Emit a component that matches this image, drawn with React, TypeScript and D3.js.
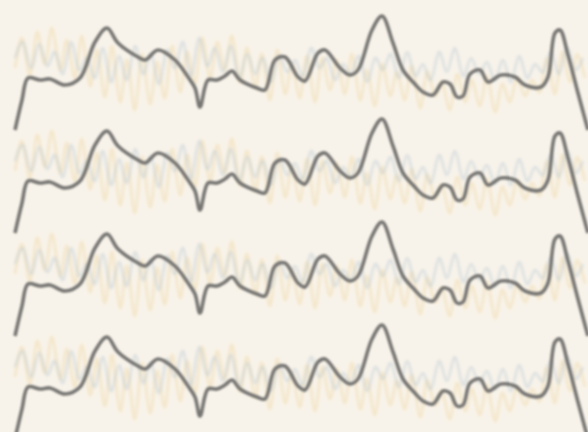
import * as d3 from 'd3';
import React, { useRef, useEffect } from 'react';

// sample positions and amplitudes of the main (dark) trace
const darkT = [0, 7, 13, 25, 35, 50, 65, 80, 92, 103, 123, 130, 143, 160, 173, 180, 185, 193, 202, 210, 217, 225, 242, 250, 260, 270, 283, 290, 303, 310, 325, 335, 343, 357, 367, 378, 388, 398, 408, 418, 428, 435, 442, 448, 455, 465, 473, 486, 500, 510, 526, 533, 540, 545, 553, 563, 573];
const darkV = [0, 30, 52, 50, 51, 45, 52, 88, 102, 87, 73, 70, 80, 70, 53, 42, 23, 50, 50, 54, 59, 50, 42, 40, 70, 73, 53, 49, 77, 80, 62, 55, 60, 100, 114, 87, 60, 48, 38, 35, 48, 46, 33, 34, 56, 60, 48, 55, 53, 45, 43, 53, 97, 100, 75, 37, 0];

// faint warm trace
const warmT = [0, 7, 15, 22, 30, 37, 45, 52, 60, 67, 75, 82, 90, 97, 105, 112, 120, 127, 135, 142, 150, 157, 165, 172, 180, 187, 195, 202, 210, 217, 225, 232, 240, 247, 255, 262, 270, 277, 285, 292, 300, 307, 315, 322, 330, 337, 345, 352, 360, 367, 375, 382, 390, 397, 405, 412, 420, 427, 435, 442, 450, 457, 465, 472, 480, 487, 495, 502, 510, 517, 525, 532, 540, 547, 555, 562, 570];
const warmV = [62, 92, 55, 98, 66, 102, 60, 90, 52, 94, 44, 80, 33, 84, 28, 70, 20, 76, 26, 68, 32, 84, 38, 78, 46, 92, 52, 88, 60, 94, 48, 82, 42, 76, 30, 80, 36, 66, 32, 74, 28, 72, 40, 70, 36, 76, 30, 60, 24, 66, 34, 58, 30, 64, 22, 58, 34, 48, 20, 56, 28, 50, 24, 54, 18, 46, 28, 52, 34, 50, 38, 72, 36, 78, 48, 76, 52];

// faint cool trace
const coolT = [0, 8, 16, 24, 32, 40, 48, 56, 64, 72, 80, 88, 96, 104, 112, 120, 128, 136, 144, 152, 160, 168, 176, 184, 192, 200, 208, 216, 224, 232, 240, 248, 256, 264, 272, 280, 288, 296, 304, 312, 320, 328, 336, 344, 352, 360, 368, 376, 384, 392, 400, 408, 416, 424, 432, 440, 448, 456, 464, 472, 480, 488, 496, 504, 512, 520, 528, 536, 544, 552, 560, 568];
const coolV = [72, 88, 62, 86, 64, 78, 56, 88, 60, 72, 52, 82, 48, 74, 50, 84, 56, 76, 46, 80, 62, 88, 54, 92, 64, 82, 58, 84, 52, 76, 56, 72, 48, 74, 58, 70, 54, 82, 62, 72, 50, 66, 56, 74, 48, 72, 60, 76, 52, 78, 54, 66, 50, 78, 58, 82, 54, 72, 56, 68, 50, 70, 48, 74, 52, 66, 58, 78, 56, 82, 60, 72];

const rows = [0, 1, 2, 3];

function App() {
    const ref = useRef<SVGSVGElement>(null);
    const width = 588;
    const height = 432;

    useEffect(() => {
        const svg = d3.select(ref.current);
        svg.selectAll('*').remove();

        const defs = svg.append('defs');
        defs.append('filter').attr('id', 'soft')
            .append('feGaussianBlur').attr('stdDeviation', 0.9);
        defs.append('filter').attr('id', 'haze')
            .attr('x', '-5%').attr('y', '-20%').attr('width', '110%').attr('height', '140%')
            .append('feGaussianBlur').attr('stdDeviation', 1.6);

        svg.append('rect').attr('width', width).attr('height', height).attr('fill', '#f8f3ea');

        const x = d3.scaleLinear().domain([0, 573]).range([15, 588]);
        const rowStep = 103;
        const faint = svg.append('g').attr('filter', 'url(#haze)');
        const g = svg.append('g').attr('filter', 'url(#soft)');

        rows.forEach((r) => {
            const y = d3.scaleLinear().domain([0, 130]).range([130 + r * rowStep, r * rowStep]);

            const wavy = d3.line<[number, number]>().x((d) => x(d[0])).y((d) => y(d[1])).curve(d3.curveCardinal);
            const dark = d3.line<[number, number]>().x((d) => x(d[0])).y((d) => y(d[1])).curve(d3.curveCatmullRom.alpha(0.5));

            faint.append('path')
                .attr('d', wavy(d3.zip(warmT, warmV) as any))
                .attr('fill', 'none')
                .attr('stroke', '#ecd199')
                .attr('stroke-opacity', 0.38)
                .attr('stroke-width', 3);

            faint.append('path')
                .attr('d', wavy(d3.zip(coolT, coolV) as any))
                .attr('fill', 'none')
                .attr('stroke', '#a7bccd')
                .attr('stroke-opacity', 0.35)
                .attr('stroke-width', 2.6);

            g.append('path')
                .attr('d', dark(d3.zip(darkT, darkV) as any))
                .attr('fill', 'none')
                .attr('stroke', '#777673')
                .attr('stroke-width', 3.6)
                .attr('stroke-linejoin', 'round');
        });
    }, []);

    return (
        <svg ref={ref} width={width} height={height}
             style={{ position: 'absolute', left: 0, top: 0, display: 'block' }}>
        </svg>
    );
}

export default App;
